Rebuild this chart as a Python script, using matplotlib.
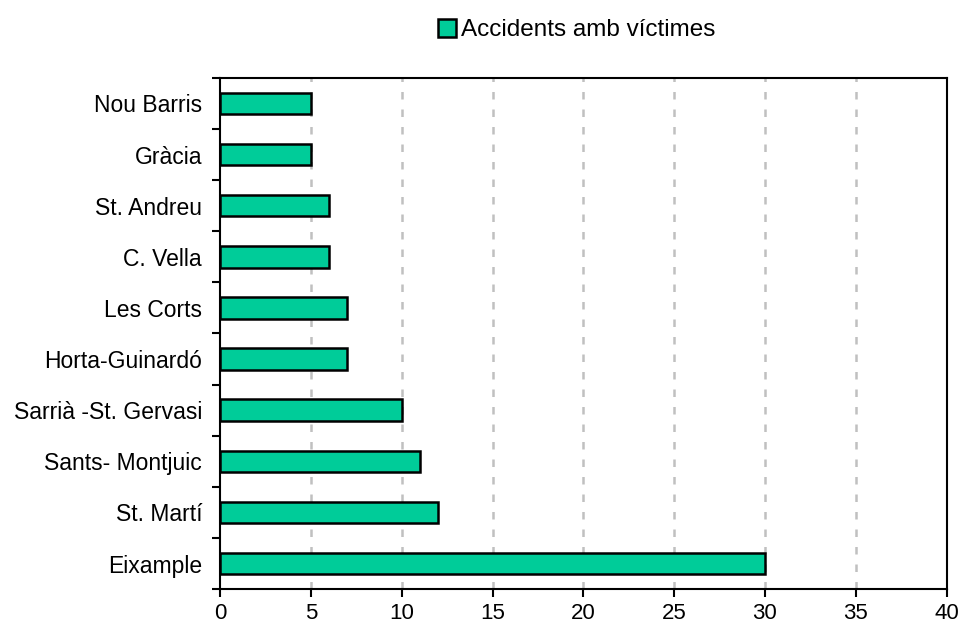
import matplotlib
matplotlib.use("Agg")
import matplotlib.pyplot as plt
import numpy as np
from matplotlib.patches import Patch

plt.rcParams['font.family'] = ['Liberation Sans', 'DejaVu Sans']

categories = ["Eixample", "St. Martí", "Sants- Montjuic", "Sarrià -St. Gervasi",
              "Horta-Guinardó", "Les Corts", "C. Vella", "St. Andreu", "Gràcia", "Nou Barris"]
values = [30, 12, 11, 10, 7, 7, 6, 6, 5, 5]
xticks = [0, 5, 10, 15, 20, 25, 30, 35, 40]
series_name = "Accidents amb víctimes"

fig = plt.figure(figsize=(9.61, 6.28), dpi=100)
ax = fig.add_axes([0.229, 0.062, 0.756, 0.814])

y = np.arange(len(categories))
ax.barh(y, values, height=0.42, color="#00CC99", edgecolor="black", linewidth=1.8, zorder=3)

ax.set_xlim(0, 40)
ax.set_ylim(-0.5, len(categories) - 0.5)
ax.set_xticks(xticks)
ax.set_xticklabels([str(t) for t in xticks], fontsize=16)
ax.set_yticks(y)
ax.set_yticklabels(categories, fontsize=16.5)
ax.set_yticks(np.arange(-0.5, len(categories), 1.0), minor=True)
ax.tick_params(axis='y', which='major', length=0, pad=13)
ax.tick_params(axis='y', which='minor', length=6, width=1.5, direction='out')
ax.tick_params(axis='x', which='major', length=6, width=1.5, direction='out', pad=4)

for t in xticks[1:-1]:
    ax.axvline(t, color="#c0c0c0", linestyle=(0, (3, 4)), linewidth=1.8, zorder=1)

for s in ax.spines.values():
    s.set_linewidth(1.5)

handle = Patch(facecolor="#00CC99", edgecolor="black", linewidth=1.8)
fig.legend([handle], [series_name], loc="center", bbox_to_anchor=(0.60, 0.952),
           frameon=False, fontsize=17.5, handlelength=0.75, handleheight=0.75, handletextpad=0.2)

fig.savefig("out.png", dpi=100)
